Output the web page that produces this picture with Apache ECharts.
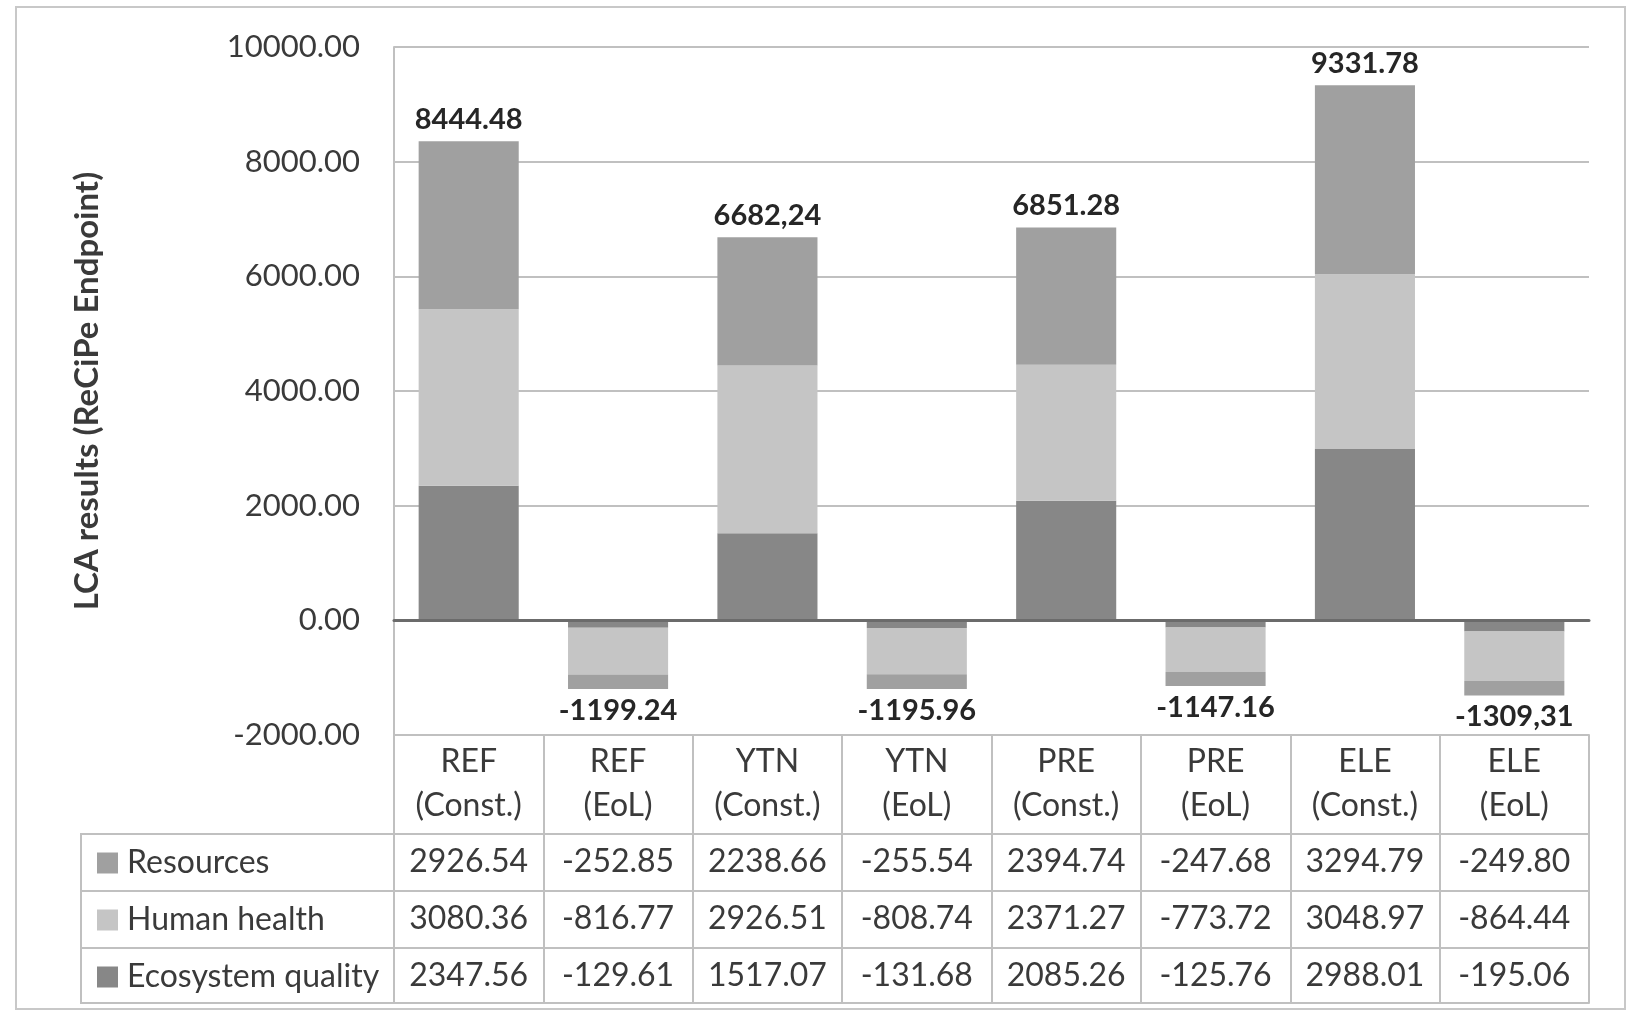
<!DOCTYPE html>
<html>
<head>
<meta charset="utf-8">
<script src="https://cdn.jsdelivr.net/npm/echarts@6/dist/echarts.min.js"></script>
<style>
html,body{margin:0;padding:0;background:#fff;}
#chart{width:1631px;height:1016px;}
</style>
</head>
<body>
<div id="chart"></div>
<script>
const categories = ['REF\n(Const.)', 'REF\n(EoL)', 'YTN\n(Const.)', 'YTN\n(EoL)', 'PRE\n(Const.)', 'PRE\n(EoL)', 'ELE\n(Const.)', 'ELE\n(EoL)'];
const seriesNames = ['Resources', 'Human health', 'Ecosystem quality'];
const resources = [2926.54, -252.85, 2238.66, -255.54, 2394.74, -247.68, 3294.79, -249.80];
const humanHealth = [3080.36, -816.77, 2926.51, -808.74, 2371.27, -773.72, 3048.97, -864.44];
const ecosystemQuality = [2347.56, -129.61, 1517.07, -131.68, 2085.26, -125.76, 2988.01, -195.06];
const totalLabels = ['8444.48', '-1199.24', '6682,24', '-1195.96', '6851.28', '-1147.16', '9331.78', '-1309,31'];
const yMin = -2000, yMax = 10000, yStep = 2000;
const yTitle = 'LCA results (ReCiPe Endpoint)';

const FONT = 'Lato';
const TXT = '#3a3a3a';
const GRIDC = '#c0c0c0';
const colors = {res: '#a0a0a0', hh: '#c5c5c5', eco: '#878787'};

// layout
const L = 394, R = 1589, T = 47, B = 735;
const rowTops = [834, 891, 948, 1003];
const tableLeft = 81;
const TFS = 32;

const chart = echarts.init(document.getElementById('chart'));

function rowAxis(offset, arr, show) {
  return {
    type: 'category', data: categories, position: 'bottom', offset: offset,
    axisLine: {show: true, onZero: false, lineStyle: {color: GRIDC, width: 2}},
    axisTick: {show: false},
    axisLabel: show ? {
      show: true, interval: 0, margin: 12, fontFamily: FONT, fontSize: TFS, lineHeight: 32, color: TXT,
      formatter: (v, i) => arr[i].toFixed(2)
    } : {show: false},
    splitLine: {show: false}
  };
}

const option = {
  animation: false,
  color: [colors.eco, colors.hh, colors.res],
  grid: {left: L, right: 1631 - R, top: T, bottom: 1016 - B, containLabel: false},
  legend: {
    orient: 'vertical', left: 92, top: 842, itemGap: 25, itemWidth: 21, itemHeight: 21,
    icon: 'rect', selectedMode: false,
    data: seriesNames,
    textStyle: {fontFamily: FONT, fontSize: TFS, lineHeight: 32, color: TXT, padding: [0, 0, 0, 4]}
  },
  xAxis: [
    {
      type: 'category', data: categories, z: 5,
      axisLine: {show: true, onZero: true, lineStyle: {color: '#6b6b6b', width: 3}},
      axisTick: {show: false}, axisLabel: {show: false}, splitLine: {show: false}
    },
    {
      type: 'category', data: categories, position: 'bottom', offset: 0,
      axisLine: {show: true, onZero: false, lineStyle: {color: GRIDC, width: 2}},
      axisTick: {show: true, interval: 0, length: rowTops[3] - B, lineStyle: {color: GRIDC, width: 2}},
      axisLabel: {show: true, interval: 0, margin: 5, fontFamily: FONT, fontSize: TFS, lineHeight: 44, color: TXT}
    },
    rowAxis(rowTops[0] - B, resources, true),
    rowAxis(rowTops[1] - B, humanHealth, true),
    rowAxis(rowTops[2] - B, ecosystemQuality, true),
    rowAxis(rowTops[3] - B, resources, false)
  ],
  yAxis: {
    type: 'value', min: yMin, max: yMax, interval: yStep,
    name: yTitle, nameLocation: 'middle', nameRotate: 90, nameGap: 290,
    nameTextStyle: {fontFamily: FONT, fontSize: 33, fontWeight: 'bold', color: TXT},
    axisLine: {show: true, lineStyle: {color: GRIDC, width: 2}},
    axisTick: {show: false},
    axisLabel: {margin: 34, fontFamily: FONT, fontSize: 31, color: TXT, formatter: v => v.toFixed(2)},
    splitLine: {show: true, lineStyle: {color: GRIDC, width: 2}}
  },
  series: [
    {name: 'Ecosystem quality', type: 'bar', stack: 'all', barWidth: '67%', data: ecosystemQuality, itemStyle: {color: colors.eco}},
    {name: 'Human health', type: 'bar', stack: 'all', barWidth: '67%', data: humanHealth, itemStyle: {color: colors.hh}},
    {
      name: 'Resources', type: 'bar', stack: 'all', barWidth: '67%', itemStyle: {color: colors.res},
      data: resources.map((v, i) => ({
        value: v,
        label: {
          show: true, position: v >= 0 ? 'top' : 'bottom', distance: 7,
          formatter: () => totalLabels[i],
          fontFamily: FONT, fontSize: 29, fontWeight: 'bold', color: '#262626'
        }
      }))
    }
  ],
  graphic: [
    {type: 'rect', silent: true, z: -1, shape: {x: 16, y: 7, width: 1609, height: 1002}, style: {fill: 'none', stroke: '#c8c8c8', lineWidth: 2}},
    {type: 'rect', silent: true, shape: {x: tableLeft, y: rowTops[0], width: L - tableLeft, height: rowTops[3] - rowTops[0]}, style: {fill: 'none', stroke: GRIDC, lineWidth: 2}},
    {type: 'line', silent: true, shape: {x1: tableLeft, y1: rowTops[1], x2: L, y2: rowTops[1]}, style: {stroke: GRIDC, lineWidth: 2}},
    {type: 'line', silent: true, shape: {x1: tableLeft, y1: rowTops[2], x2: L, y2: rowTops[2]}, style: {stroke: GRIDC, lineWidth: 2}}
  ]
};
chart.setOption(option);
</script>
</body>
</html>
